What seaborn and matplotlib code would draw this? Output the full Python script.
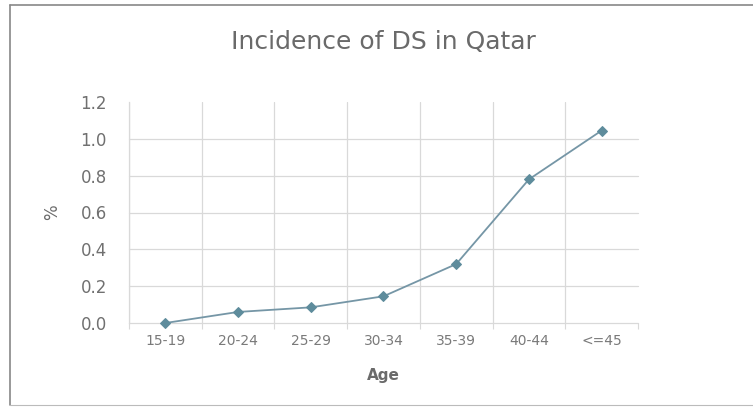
import matplotlib
matplotlib.use("Agg")
import matplotlib.pyplot as plt
from matplotlib.lines import Line2D
from matplotlib.ticker import FixedLocator
import seaborn as sns
import pandas as pd

# Age groups and incidence (%)
age_groups = ["15-19", "20-24", "25-29", "30-34", "35-39", "40-44", "<=45"]
incidence = [0.0, 0.06, 0.085, 0.145, 0.32, 0.78, 1.045]
y_ticks = [0.0, 0.2, 0.4, 0.6, 0.8, 1.0, 1.2]

df = pd.DataFrame({"Age": age_groups, "%": incidence})

sns.set_theme(style="white")
plt.rcParams["font.family"] = ["DejaVu Sans"]

W, H = 753, 407
fig = plt.figure(figsize=(W / 100, H / 100), dpi=100)
ax = fig.add_axes([129 / W, 1 - 323 / H, 509 / W, 221 / H])

grid_c = "#d9d9d9"
line_c = "#7596a6"
text_c = "#6a6a6a"

sns.lineplot(data=df, x="Age", y="%", ax=ax, color=line_c, linewidth=1.3,
             marker="D", markersize=5.5, markerfacecolor="#5e8c9c",
             markeredgecolor="#5e8c9c", sort=False, clip_on=False, zorder=3)

n = len(age_groups)
ax.set_xlim(-0.5, n - 0.5)
ax.set_ylim(0, 1.2)

# y axis
ax.set_yticks(y_ticks)
ax.set_yticklabels([f"{v:.1f}" for v in y_ticks], fontsize=12, color="#707070")
ax.tick_params(axis="y", length=6, width=0.8, color=grid_c, pad=10)

# x axis: labels at category centres, grid at category boundaries
ax.set_xticks(range(n))
ax.set_xticklabels(age_groups, fontsize=10, color="#7a7a7a")
ax.tick_params(axis="x", which="major", length=0, pad=8)
ax.xaxis.set_minor_locator(FixedLocator([i - 0.5 for i in range(n + 1)]))
ax.tick_params(axis="x", which="minor", length=4, width=0.8, color=grid_c,
               direction="out", bottom=True)

ax.grid(True, axis="y", which="major", color=grid_c, linewidth=0.9)
ax.grid(True, axis="x", which="minor", color=grid_c, linewidth=0.9)
ax.grid(False, axis="x", which="major")
ax.set_axisbelow(True)

for side in ["top", "right", "bottom"]:
    ax.spines[side].set_visible(False)
ax.spines["left"].set_color(grid_c)
ax.spines["left"].set_linewidth(0.9)

ax.set_xlabel("Age", fontsize=11, fontweight="bold", color=text_c, labelpad=14)
ax.set_ylabel("%", fontsize=12, color=text_c, labelpad=14)

fig.text(383 / W, 1 - 42 / H, "Incidence of DS in Qatar", ha="center", va="center",
         fontsize=18, color=text_c)

# outer frame
frame_c = "#888888"
fig.add_artist(Line2D([10 / W, 10 / W], [1 - 5 / H, 1 - 405 / H], color=frame_c, linewidth=1.2))
fig.add_artist(Line2D([10 / W, 1.0], [1 - 5 / H, 1 - 5 / H], color=frame_c, linewidth=1.2))
fig.add_artist(Line2D([10 / W, 1.0], [1 - 405 / H, 1 - 405 / H], color="#bbbbbb", linewidth=0.8))

fig.canvas.draw()
# grid lines: none at the top edge (1.2) or the right edge; keep the 0 line unclipped
for tick in ax.yaxis.get_major_ticks():
    tick.gridline.set_clip_on(False)
    if abs(tick.get_loc() - 1.2) < 1e-6:
        tick.gridline.set_visible(False)
for tick in ax.xaxis.get_minor_ticks():
    if abs(tick.get_loc() - (n - 0.5)) < 1e-6:
        tick.gridline.set_visible(False)

fig.savefig("out.png", dpi=100, facecolor="white")
